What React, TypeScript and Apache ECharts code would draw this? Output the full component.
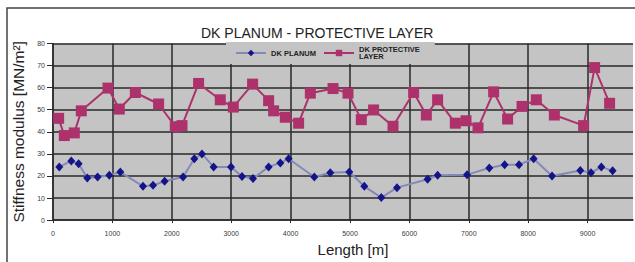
import React, { useEffect, useRef } from "react";
import * as echarts from "echarts";

const titleText = "DK PLANUM - PROTECTIVE LAYER";
const seriesNames = ["DK PLANUM", "DK PROTECTIVE LAYER"];

// DK PLANUM: length [m], stiffness [MN/m2]
const planumLength = [106, 308, 431, 577, 751, 948, 1133, 1515, 1684, 1879, 2189, 2379, 2508, 2704, 2997, 3182, 3367, 3630, 3827, 3967, 4399, 4668, 4988, 5241, 5527, 5791, 6306, 6475, 6970, 7345, 7603, 7845, 8091, 8401, 8877, 9057, 9231, 9421];
const planumValue = [24.1, 26.8, 25.5, 19.1, 19.5, 20.3, 21.8, 15.3, 15.8, 17.6, 19.5, 27.8, 30, 24.1, 24.1, 19.8, 18.8, 24.1, 25.9, 27.8, 19.5, 21.5, 21.8, 15.3, 10.2, 14.7, 18.5, 20.3, 20.6, 23.6, 25.1, 25.1, 27.8, 20, 22.5, 21.4, 24.1, 22.3];

// DK PROTECTIVE LAYER
const protectLength = [95, 190, 359, 476, 926, 1116, 1386, 1778, 2059, 2172, 2451, 2816, 3035, 3360, 3630, 3714, 3911, 4135, 4332, 4714, 4966, 5190, 5397, 5724, 6071, 6285, 6475, 6773, 6953, 7155, 7418, 7653, 7896, 8137, 8440, 8933, 9118, 9370];
const protectValue = [46.1, 38.3, 39.5, 49.5, 59.8, 50.3, 57.8, 52.6, 42.3, 42.8, 61.9, 54.5, 51.2, 61.6, 54.1, 49.5, 46.6, 43.9, 57.5, 59.6, 57.5, 45.5, 49.9, 42.5, 57.8, 47.6, 54.5, 43.9, 45, 41.8, 58.1, 45.8, 51.5, 54.5, 47.6, 42.8, 69.1, 52.9];

const xMin = 0;
const xMax = 9764;
const xInterval = 1000;
const yMin = 0;
const yMax = 80;
const yInterval = 10;

const FONT = "'Liberation Sans', Arial, sans-serif";

export default function App() {
  const ref = useRef<HTMLDivElement>(null);
  useEffect(() => {
    if (!ref.current) return;
    const chart = echarts.init(ref.current, null, { renderer: "svg" });
    const planumData = planumLength.map((x, i) => [x, planumValue[i]]);
    const protectData = protectLength.map((x, i) => [x, protectValue[i]]);
    chart.setOption({
      animation: false,
      backgroundColor: "#ffffff",
      title: {
        text: titleText,
        left: 196,
        top: 21,
        textStyle: { fontFamily: FONT, fontSize: 14, fontWeight: "normal", color: "#222" },
      },
      legend: {
        left: 226,
        top: 42,
        padding: [0, 15, 0, 9],
        backgroundColor: "#c4c4c4",
        itemWidth: 30,
        itemHeight: 8,
        itemGap: 7,
        textStyle: { fontFamily: FONT, fontSize: 7.5, fontWeight: "bold", color: "#222", lineHeight: 7.5 },
        formatter: (name: string) => (name === seriesNames[1] ? "DK PROTECTIVE\nLAYER" : name),
        data: [
          { name: seriesNames[0] },
          { name: seriesNames[1], textStyle: { padding: [7, 0, 0, 0] } },
        ],
      },
      grid: {
        left: 53,
        right: 2,
        top: 43.5,
        bottom: 40.3,
        show: true,
        backgroundColor: "#c4c4c4",
        borderWidth: 0,
      },
      xAxis: {
        type: "value",
        min: xMin,
        max: xMax,
        interval: xInterval,
        name: "Length [m]",
        nameLocation: "middle",
        nameGap: 20,
        nameTextStyle: { fontFamily: FONT, fontSize: 15, color: "#222", padding: [0, 0, 0, 20] },
        axisLine: { show: true, lineStyle: { color: "#2a2a2a", width: 1.5 } },
        axisTick: { show: true, length: 3, lineStyle: { color: "#2a2a2a" } },
        axisLabel: {
          fontFamily: FONT,
          fontSize: 7,
          color: "#3a3a3a",
          margin: 10,
          showMaxLabel: false,
          formatter: (v: number) => String(v),
        },
        splitLine: { show: true, showMaxLine: false, lineStyle: { color: "#2a2a2a", width: 1.5 } },
      },
      yAxis: {
        type: "value",
        min: yMin,
        max: yMax,
        interval: yInterval,
        name: "Stiffness modulus [MN/m²]",
        nameLocation: "middle",
        nameGap: 20,
        nameTextStyle: { fontFamily: FONT, fontSize: 15.5, color: "#222" },
        axisLine: { show: true, lineStyle: { color: "#2a2a2a", width: 1.5 } },
        axisTick: { show: true, length: 6, lineStyle: { color: "#2a2a2a" } },
        axisLabel: { fontFamily: FONT, fontSize: 7, color: "#3a3a3a", margin: 8 },
        splitLine: { show: true, lineStyle: { color: "#2a2a2a", width: 1.5 } },
      },
      graphic: [
        {
          type: "rect",
          z: 100,
          silent: true,
          shape: { x: 7, y: 8, width: 800, height: 400 },
          style: { fill: "none", stroke: "#444", lineWidth: 1.5 },
        },
      ],
      series: [
        {
          name: seriesNames[0],
          type: "line",
          data: planumData,
          symbol: "diamond",
          symbolSize: [8, 9],
          lineStyle: { color: "#8589b8", width: 2 },
          itemStyle: { color: "#14148a" },
          z: 3,
        },
        {
          name: seriesNames[1],
          type: "line",
          data: protectData,
          symbol: "rect",
          symbolSize: 11,
          lineStyle: { color: "#ad326c", width: 2 },
          itemStyle: { color: "#ad326c" },
          z: 3,
        },
      ],
    });
    return () => chart.dispose();
  }, []);
  return (
    <div
      ref={ref}
      style={{ position: "absolute", left: 0, top: 0, width: 635, height: 262, background: "#fff" }}
    />
  );
}
